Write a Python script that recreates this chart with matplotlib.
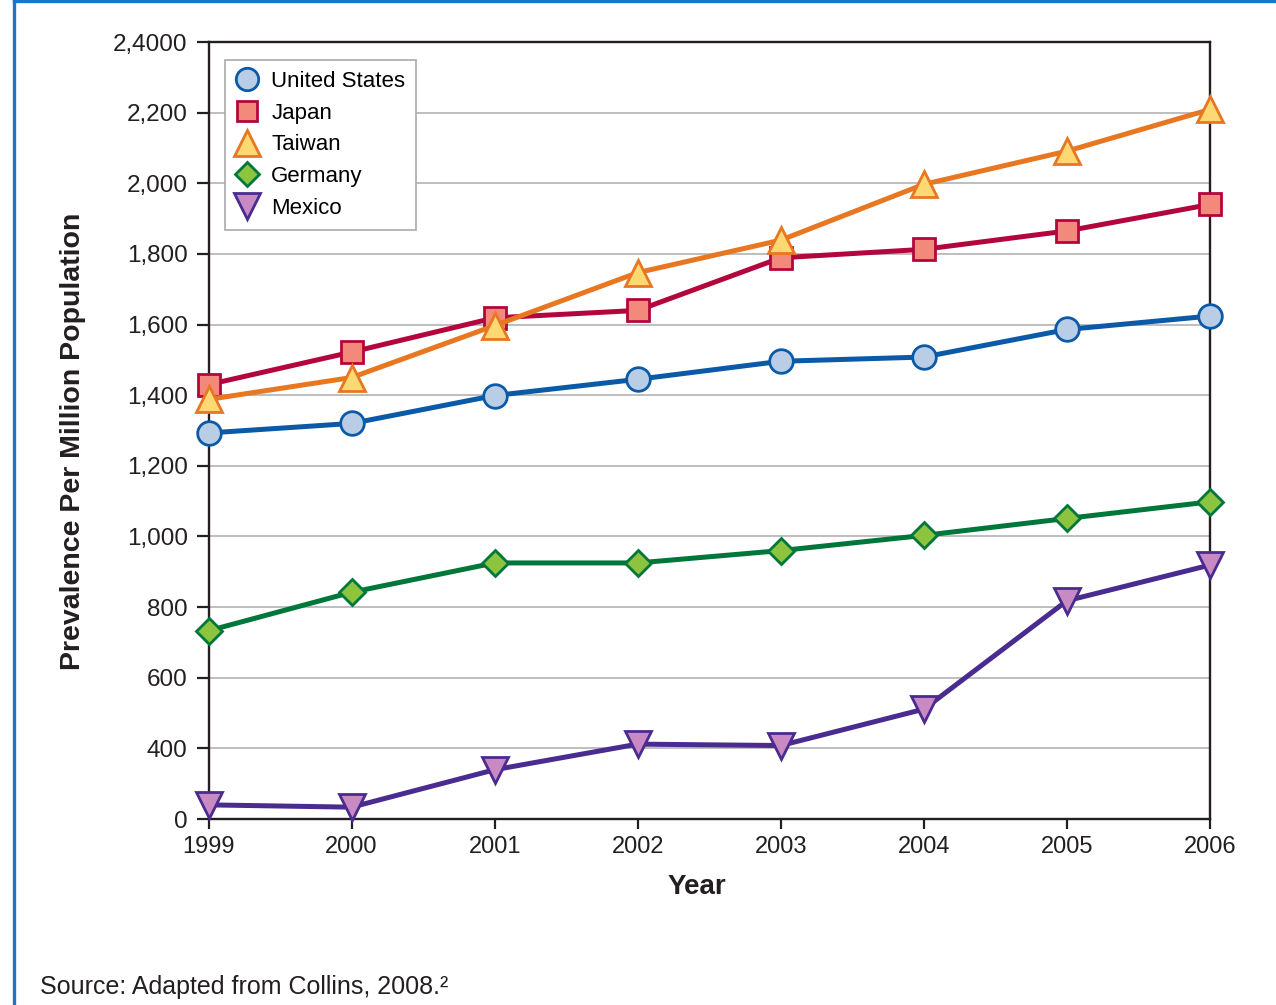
import numpy as np
import matplotlib
matplotlib.use("Agg")
import matplotlib.pyplot as plt
from matplotlib.lines import Line2D

plt.rcParams['font.family'] = ['Liberation Sans', 'DejaVu Sans']

years = [1999, 2000, 2001, 2002, 2003, 2004, 2005, 2006]

united_states = [1293, 1320, 1399, 1445, 1496, 1508, 1586, 1624]
japan = [1430, 1522, 1619, 1640, 1789, 1813, 1865, 1940]
taiwan = [1388, 1450, 1597, 1747, 1839, 1997, 2091, 2209]
germany = [733, 842, 925, 925, 960, 1003, 1051, 1098]
mexico = [80, 67, 279, 412, 408, 511, 818, 919]

y_ticks = [0, 400, 600, 800, 1000, 1200, 1400, 1600, 1800, 2000, 2200, 2400]
y_tick_labels = ['0', '400', '600', '800', '1,000', '1,200', '1,400', '1,600',
                 '1,800', '2,000', '2,200', '2,4000']
x_tick_labels = ['1999', '2000', '2001', '2002', '2003', '2004', '2005', '2006']


# The lowest band of the axis spans 0-400; every band above it spans 200.
def fwd(v):
    v = np.asarray(v, dtype=float)
    return np.where(v <= 400, v / 400.0, 1.0 + (v - 400.0) / 200.0)


def inv(u):
    u = np.asarray(u, dtype=float)
    return np.where(u <= 1, u * 400.0, 400.0 + (u - 1.0) * 200.0)


series = [
    ("United States", united_states, 'o', 17, '#0a5aa8', '#b9cee6'),
    ("Japan", japan, 's', 15.5, '#b3063c', '#f2897b'),
    ("Taiwan", taiwan, '^', 19, '#e87722', '#fdd873'),
    ("Germany", germany, 'D', 13, '#00773a', '#8cc43f'),
    ("Mexico", mexico, 'v', 19, '#4a2b8f', '#c98ac4'),
]

fig = plt.figure(figsize=(12.76, 10.05), dpi=100)
ax = fig.add_axes([208.5 / 1276, 1 - 819 / 1005, (1210 - 208.5) / 1276, (819 - 42) / 1005])
ax.set_yscale('function', functions=(fwd, inv))
ax.set_xlim(1999, 2006)
ax.set_ylim(0, 2400)

for name, vals, mk, ms, lc, fc in series:
    ax.plot(years, vals, color=lc, lw=3.6, marker=mk, markersize=ms,
            markerfacecolor=fc, markeredgecolor=lc, markeredgewidth=2.0,
            clip_on=False, zorder=3, label=name)

ax.set_yticks(y_ticks)
ax.set_yticklabels(y_tick_labels)
ax.set_xticks(years)
ax.set_xticklabels(x_tick_labels)
ax.yaxis.set_minor_locator(matplotlib.ticker.NullLocator())

ax.grid(axis='y', color='#b3b3b3', lw=1.2, zorder=0)
ax.set_axisbelow(True)
for s in ax.spines.values():
    s.set_color('#231f20')
    s.set_linewidth(1.7)
ax.tick_params(axis='y', direction='out', length=9, width=1.6, pad=6,
               labelsize=17.5, colors='#231f20')
ax.tick_params(axis='x', direction='out', length=7.5, width=1.6, pad=5,
               labelsize=17, colors='#231f20')

handles = [Line2D([], [], ls='none', marker=mk, markersize=ms * 0.95,
                  markerfacecolor=fc, markeredgecolor=lc, markeredgewidth=2.0)
           for name, vals, mk, ms, lc, fc in series]
leg = ax.legend(handles, [s[0] for s in series], loc='upper left',
                bbox_to_anchor=(0.0165, 0.977), borderaxespad=0,
                fontsize=16, frameon=True, fancybox=False, framealpha=1,
                edgecolor='#aaaaaa', handlelength=1.0, handletextpad=0.58,
                labelspacing=0.48, borderpad=0.5)
leg.get_frame().set_linewidth(1.2)
leg.set_zorder(5)

fig.text(0.057, 0.561, 'Prevalence Per Million Population', rotation=90,
         ha='center', va='center', fontsize=20.5, fontweight='bold', color='#231f20')
fig.text(0.546, 0.1174, 'Year', ha='center', va='center', fontsize=20,
         fontweight='bold', color='#231f20')
fig.text(0.031, 0.011, 'Source: Adapted from Collins, 2008.²', ha='left',
         va='baseline', fontsize=18, color='#231f20')

# blue frame along the top and left edges
fig.add_artist(Line2D([14 / 1276, 14 / 1276], [0, 1], color='#1b75c9', lw=2.4))
fig.add_artist(Line2D([14 / 1276, 1], [1 - 1.5 / 1005, 1 - 1.5 / 1005], color='#1b75c9', lw=2.4))

fig.savefig('out.png', dpi=100, facecolor='white')
